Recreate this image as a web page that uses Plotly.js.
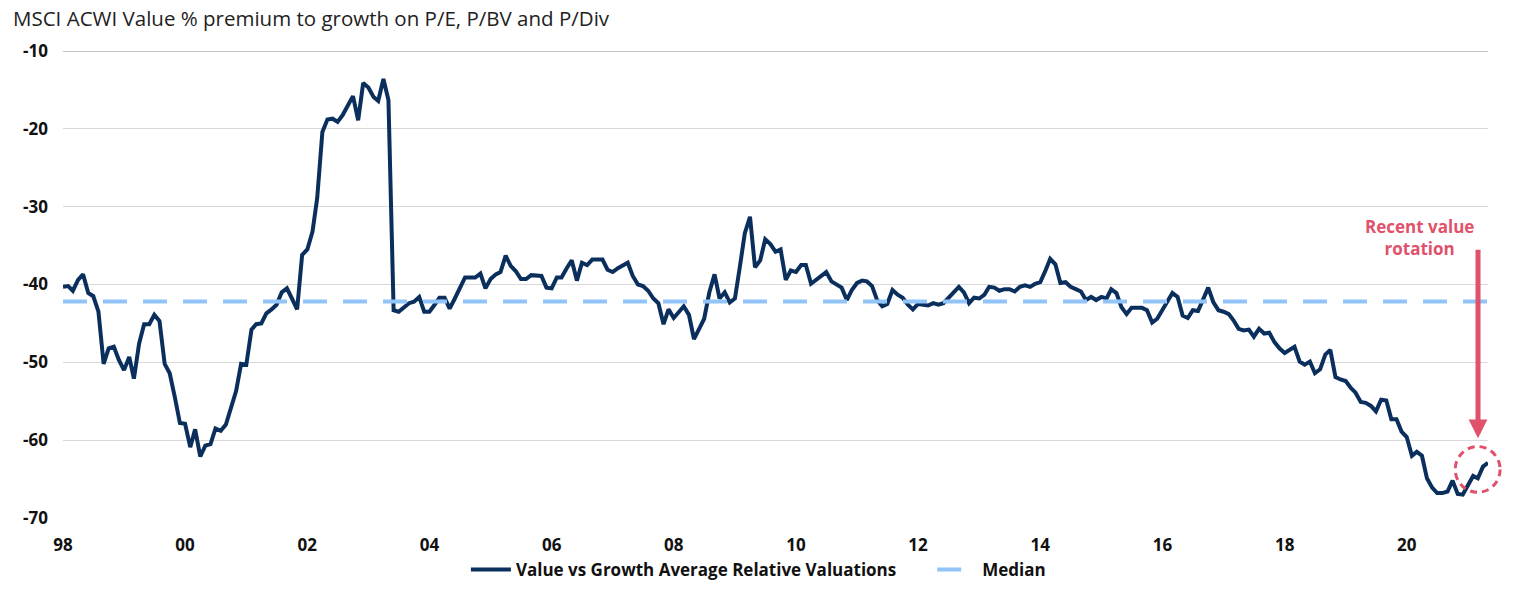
<!DOCTYPE html>
<html>
<head>
<meta charset="utf-8">
<script src="https://cdn.plot.ly/plotly-3.0.1.min.js"></script>
<style>
  html, body { margin: 0; padding: 0; background: #ffffff; }
  #chart { width: 1517px; height: 611px; }
</style>
</head>
<body>
<div id="chart"></div>
<script>
// Monthly series, Jan 1998 to May 2021
const startYear = 1998;
const v1998 = [-40.3, -40.2, -40.8, -39.4, -38.7, -41.1, -41.5, -43.5, -50.2, -48.2, -48.0, -49.7];
const v1999 = [-51.0, -49.3, -52.1, -47.6, -45.1, -45.1, -43.9, -44.7, -50.2, -51.4, -54.5, -57.8];
const v2000 = [-57.9, -60.9, -58.6, -62.1, -60.7, -60.5, -58.5, -58.8, -58.0, -55.7, -53.7, -50.2];
const v2001 = [-50.3, -45.8, -45.1, -45.0, -43.7, -43.2, -42.6, -41.0, -40.5, -41.8, -43.2, -36.2];
const v2002 = [-35.5, -33.2, -28.9, -20.4, -18.8, -18.7, -19.1, -18.2, -17.1, -15.8, -18.9, -14.1];
const v2003 = [-14.7, -15.9, -16.4, -13.6, -16.3, -43.3, -43.5, -42.9, -42.4, -42.2, -41.6, -43.5];
const v2004 = [-43.5, -42.6, -41.7, -41.7, -43.1, -41.8, -40.4, -39.1, -39.1, -39.1, -38.6, -40.5];
const v2005 = [-39.3, -38.7, -38.4, -36.3, -37.6, -38.3, -39.3, -39.3, -38.8, -38.9, -38.9, -40.4];
const v2006 = [-40.5, -39.1, -39.1, -37.9, -36.9, -39.5, -37.2, -37.5, -36.8, -36.8, -36.8, -38.1];
const v2007 = [-38.4, -37.9, -37.6, -37.2, -38.9, -40.0, -40.2, -40.8, -41.8, -42.4, -45.1, -43.2];
const v2008 = [-44.3, -43.6, -42.8, -43.9, -47.0, -45.7, -44.4, -41.0, -38.7, -41.8, -41.0, -42.3];
const v2009 = [-41.8, -37.5, -33.4, -31.3, -37.8, -36.9, -34.2, -34.8, -35.8, -35.5, -39.4, -38.2];
const v2010 = [-38.4, -37.5, -37.5, -39.9, -39.4, -38.8, -38.4, -39.6, -40.0, -40.4, -42.0, -40.7];
const v2011 = [-39.8, -39.5, -39.6, -40.2, -42.0, -42.8, -42.5, -40.7, -41.3, -41.7, -42.6, -43.2];
const v2012 = [-42.5, -42.6, -42.7, -42.4, -42.6, -42.4, -41.7, -41.1, -40.3, -41.0, -42.4, -41.7];
const v2013 = [-41.8, -41.3, -40.3, -40.4, -40.8, -40.6, -40.6, -40.9, -40.3, -40.1, -40.3, -39.9];
const v2014 = [-39.7, -38.2, -36.7, -37.4, -39.8, -39.7, -40.3, -40.6, -40.9, -42.0, -41.6, -42.0];
const v2015 = [-41.6, -41.8, -40.6, -41.1, -42.9, -43.8, -43.0, -43.0, -43.0, -43.3, -44.9, -44.4];
const v2016 = [-43.3, -42.3, -41.1, -41.6, -44.0, -44.3, -43.3, -43.4, -41.8, -40.4, -42.3, -43.3];
const v2017 = [-43.5, -43.8, -44.6, -45.7, -45.9, -45.8, -46.7, -45.7, -46.3, -46.2, -47.4, -48.2];
const v2018 = [-48.8, -48.3, -48.0, -49.9, -50.3, -49.9, -51.4, -50.9, -49.0, -48.4, -51.9, -52.2];
const v2019 = [-52.4, -53.3, -53.9, -55.1, -55.2, -55.6, -56.3, -54.8, -54.9, -57.3, -57.3, -58.9];
const v2020 = [-59.6, -62.0, -61.5, -62.0, -64.9, -66.1, -66.8, -66.8, -66.6, -65.2, -66.9, -67.0];
const v2021 = [-65.7, -64.6, -64.9, -63.4, -62.9];

const medianValue = -42.2;

const tickYears = [1998, 2000, 2002, 2004, 2006, 2008, 2010, 2012, 2014, 2016, 2018, 2020];
const tickLabels = ['98', '00', '02', '04', '06', '08', '10', '12', '14', '16', '18', '20'];
const yTickValues = [-70, -60, -50, -40, -30, -20, -10];
const yTickLabels = ['-70', '-60', '-50', '-40', '-30', '-20', '-10'];

const seriesName = 'Value vs Growth Average Relative Valuations';
const medianName = 'Median';

const values = [].concat(v1998, v1999, v2000, v2001, v2002, v2003, v2004, v2005, v2006, v2007,
  v2008, v2009, v2010, v2011, v2012, v2013, v2014, v2015, v2016, v2017, v2018, v2019, v2020, v2021);

function monthDate(i) {
  const y = startYear + Math.floor(i / 12);
  const m = (i % 12) + 1;
  return y + '-' + (m < 10 ? '0' + m : m) + '-01';
}
const dates = values.map((_, i) => monthDate(i));
const medianLine = dates.map(() => medianValue);

const FONT = '"Open Sans", "Noto Sans", sans-serif';
const accent = '#e0516b';
const gap = '\u00a0\u00a0\u00a0\u00a0\u00a0\u00a0\u00a0';

const traces = [
  {
    x: dates, y: values, type: 'scatter', mode: 'lines', name: seriesName + gap,
    line: { color: '#0b2f5c', width: 4 }
  },
  {
    x: dates, y: medianLine, type: 'scatter', mode: 'lines', name: medianName,
    line: { color: '#92c4f8', width: 4, dash: '24px,16px' }
  }
];

const layout = {
  width: 1517, height: 611,
  margin: { l: 63, r: 29, t: 51, b: 93 },
  paper_bgcolor: '#ffffff', plot_bgcolor: '#ffffff',
  font: { family: FONT, color: '#1a1a1a' },
  title: {
    text: 'MSCI ACWI Value % premium to growth on P/E, P/BV and P/Div',
    font: { family: FONT, size: 20.5, color: '#222222' },
    xref: 'container', yref: 'container',
    x: 0.0086, xanchor: 'left', y: 0.97, yanchor: 'middle'
  },
  xaxis: {
    type: 'date',
    range: [dates[0], dates[dates.length - 1]],
    tickvals: tickYears.map(y => y + '-01-01'),
    ticktext: tickLabels,
    showgrid: false, zeroline: false, showline: false,
    ticks: '', ticklabelstandoff: 15,
    tickfont: { family: FONT, size: 17, color: '#111111', weight: 'bold' }
  },
  yaxis: {
    range: [-70, -10],
    tickvals: yTickValues,
    ticktext: yTickLabels,
    showgrid: true, gridcolor: '#d9d9d9', gridwidth: 1,
    zeroline: false, showline: false, ticks: '',
    ticklabelstandoff: 14,
    tickfont: { family: FONT, size: 17, color: '#111111', weight: 'bold' }
  },
  showlegend: true,
  legend: {
    orientation: 'h', x: 0.488, xanchor: 'center', y: -0.111, yanchor: 'middle',
    font: { family: FONT, size: 17, color: '#111111', weight: 'bold' },
    itemwidth: 40, tracegroupgap: 0, bgcolor: 'rgba(0,0,0,0)'
  },
  shapes: [
    { type: 'line', xref: 'paper', yref: 'y', x0: 0, x1: 1, y0: -10, y1: -10,
      line: { color: '#8c8c8c', width: 1.2 } },
    { type: 'circle', xref: 'paper', yref: 'paper',
      x0: 0.977, x1: 1.0085, y0: 0.055, y1: 0.153,
      line: { color: accent, width: 3, dash: '7px,5px' } }
  ],
  annotations: [
    { xref: 'paper', yref: 'paper', x: 0.993, y: 0.171, text: '',
      showarrow: true, ax: 0, ay: -190, arrowhead: 2, arrowsize: 0.75,
      arrowwidth: 5, arrowcolor: accent },
    { xref: 'paper', yref: 'paper', x: 0.952, y: 0.6, xanchor: 'center', yanchor: 'middle',
      text: 'Recent value<br>rotation', showarrow: false, align: 'center',
      font: { family: FONT, size: 17, color: accent, weight: 'bold' } }
  ]
};

Plotly.newPlot('chart', traces, layout, { displayModeBar: false, staticPlot: true });
</script>
</body>
</html>
